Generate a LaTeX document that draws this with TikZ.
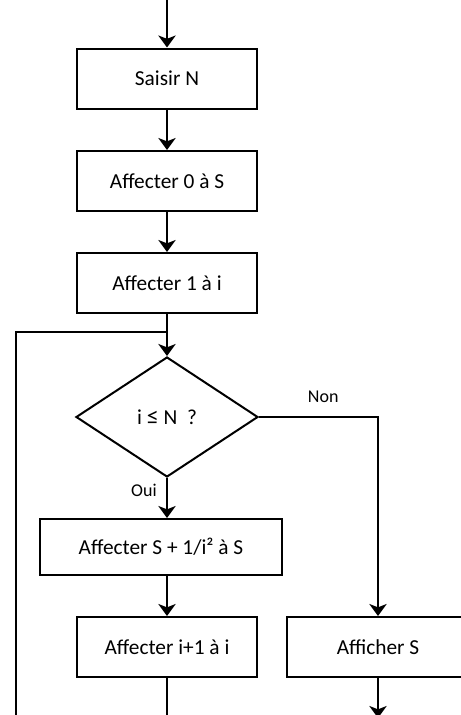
\documentclass[tikz,border=0pt]{standalone}
\usepackage{fontspec}
\setmainfont{Carlito}
\usetikzlibrary{shapes.geometric,arrows.meta}
\tikzset{
  bloc/.style={draw,line width=1.5pt,minimum width=135pt,minimum height=45pt,inner sep=0pt,font=\fontsize{16}{19}\selectfont},
  choix/.style={draw,diamond,line width=1.5pt,minimum width=136.5pt,minimum height=90pt,inner sep=0pt,font=\fontsize{16}{19}\selectfont},
  fleche/.style={line width=1.5pt,-{Stealth[length=9pt,width=13pt,inset=2.5pt]}},
  trait/.style={line width=1.5pt},
  etiq/.style={inner sep=0pt,font=\fontsize{13.5}{16}\selectfont}
}
\begin{document}
\begin{tikzpicture}[x=0.75pt,y=0.75pt,yscale=-1,xscale=1]
                \useasboundingbox (0,0) rectangle (461,715);
                \clip (0,0) rectangle (461,715);
                \coordinate (debut) at (167,-5);
                \node [bloc] (saisir) at (167,78.5) {Saisir N};
                \node [bloc] (affzero) at (167,181) {Affecter 0 à S};
                \node [bloc] (affun) at (167,283) {Affecter 1 à i};
                \coordinate (retour) at (167,332);
                \node [choix] (test) at (167,417) {i {\fontsize{18}{19}\selectfont ≤} N~~?};
                \node [bloc,minimum width=181.5pt,minimum height=42pt] (affsomme) at (161,547) {Affecter S + 1/i² à S};
                \node [bloc] (affincr) at (167,647) {Affecter i+1 à i};
                \node [bloc,minimum width=136.5pt] (afficher) at (378,647) {Afficher S};
                \coordinate (basgauche) at (16,740);
                \coordinate (fin) at (378,718);
                \draw [fleche] (debut) -- (saisir);
                \draw [fleche] (saisir) -- (affzero);
                \draw [fleche] (affzero) -- (affun);
                \draw [fleche] (affun) -- (test);
                \draw [fleche] (test) -- node [etiq,pos=0.3,left=7pt] (oui) {Oui} (affsomme.north -| test);
                \draw [fleche] (test.east) -| node [etiq,pos=0.27,above=10pt] (non) {Non} (afficher.north);
                \draw [fleche] (affsomme.south -| affincr) -- (affincr);
                \draw [trait] (affincr.south) -- (affincr.south |- basgauche) -- (basgauche) |- (retour);
                \draw [fleche] (afficher) -- (fin);
            \end{tikzpicture}
\end{document}
